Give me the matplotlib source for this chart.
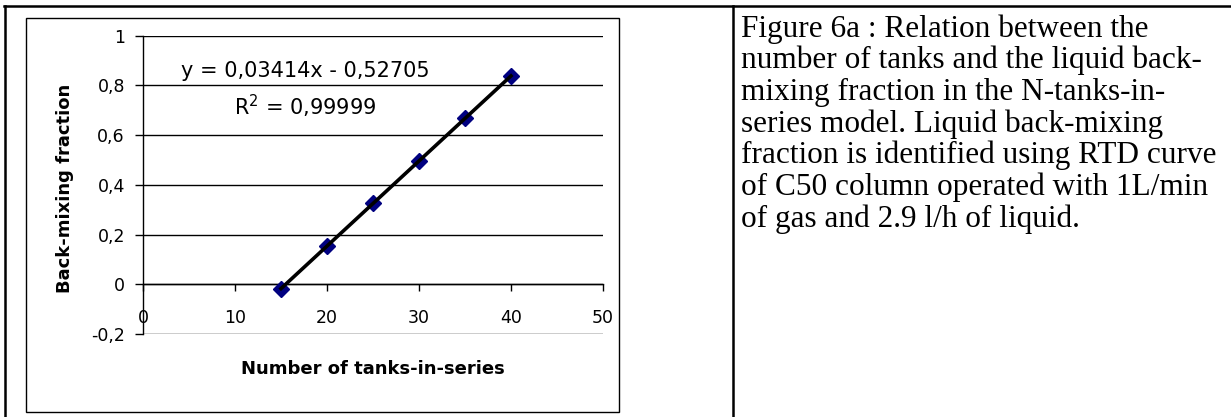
import numpy as np
import matplotlib
matplotlib.use('Agg')
import matplotlib.pyplot as plt
import matplotlib.lines as lines
import matplotlib.patches as patches

# data
tanks = [15, 20, 25, 30, 35, 40]
backmix = [-0.02, 0.155, 0.327, 0.497, 0.668, 0.836]
x_ticks = [0, 10, 20, 30, 40, 50]
y_ticks = [-0.2, 0, 0.2, 0.4, 0.6, 0.8, 1]
y_ticklabels = ['-0,2', '0', '0,2', '0,4', '0,6', '0,8', '1']
eq_text = 'y = 0,03414x - 0,52705'
r2_text = 'R$^2$ = 0,99999'
caption = ['Figure 6a : Relation between the',
           'number of tanks and the liquid back-',
           'mixing fraction in the N-tanks-in-',
           'series model. Liquid back-mixing',
           'fraction is identified using RTD curve',
           'of C50 column operated with 1L/min',
           'of gas and 2.9 l/h of liquid.']

W, H = 1231, 417
fig = plt.figure(figsize=(W / 100, H / 100), dpi=100)
plt.rcParams['mathtext.fontset'] = 'dejavusans'

def fx(px):
    return px / W

def fy(py):
    return 1 - py / H

# table borders
fig.add_artist(lines.Line2D([fx(4), 1], [fy(6), fy(6)], color='black', lw=1.8))
fig.add_artist(lines.Line2D([fx(5), fx(5)], [0, fy(6)], color='black', lw=1.8))
fig.add_artist(lines.Line2D([fx(733), fx(733)], [0, fy(6)], color='black', lw=1.8))

# chart frame
fig.add_artist(patches.Rectangle((fx(26), fy(412)), fx(619) - fx(26), fy(18) - fy(412),
                                 transform=fig.transFigure, fill=False, ec='black', lw=1))

ax = fig.add_axes([fx(143), fy(334), fx(603) - fx(143), fy(35.7) - fy(334)])
for s in ['top', 'right']:
    ax.spines[s].set_visible(False)
ax.spines['bottom'].set_position(('data', 0))
ax.spines['left'].set_linewidth(1)
ax.spines['bottom'].set_linewidth(1)

ax.set_xlim(0, 50)
ax.set_ylim(-0.2, 1)

sans = 'DejaVu Sans'
ax.set_xticks(x_ticks)
ax.set_xticklabels([str(t) for t in x_ticks])
ax.set_yticks(y_ticks)
ax.set_yticklabels(y_ticklabels)
ax.tick_params(axis='x', direction='out', length=5, width=1, pad=13, labelsize=12.5)
ax.tick_params(axis='y', direction='out', length=6, width=1, pad=7, labelsize=12.5)
for lab in ax.get_xticklabels() + ax.get_yticklabels():
    lab.set_family(sans)
ax.yaxis.grid(True, color='black', lw=1)
ax.set_axisbelow(True)

ax.plot(tanks, backmix, linestyle='none', marker='D', ms=8, color='#000080', zorder=3)
k, b = np.polyfit(tanks, backmix, 1)
xs = np.array([tanks[0], tanks[-1]])
ax.plot(xs, k * xs + b, color='black', lw=2.6, zorder=4)

fig.text(fx(305), fy(71), eq_text, fontsize=15, family=sans, ha='center', va='center')
fig.text(fx(305), fy(106), r2_text, fontsize=15, family=sans, ha='center', va='center')

fig.text(fx(373), fy(369), 'Number of tanks-in-series', fontsize=13, family=sans,
         weight='bold', ha='center', va='center')
fig.text(fx(65), fy(188), 'Back-mixing fraction', fontsize=13, family=sans,
         weight='bold', ha='center', va='center', rotation=90)

for i, line in enumerate(caption):
    fig.text(fx(741), fy(36.5 + i * 31.7), line, fontsize=22.5, family='Liberation Serif',
             ha='left', va='baseline')

fig.savefig('out.png', dpi=100)
